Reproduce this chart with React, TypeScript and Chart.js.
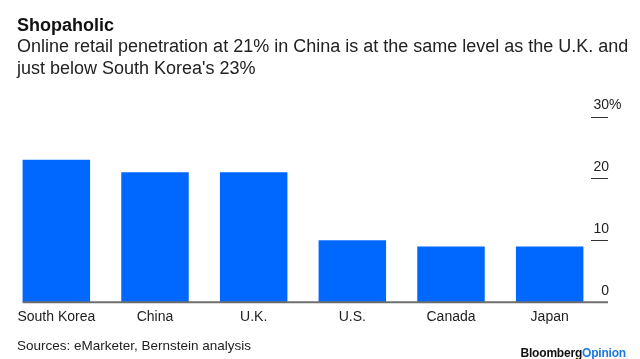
import React, { useEffect, useRef } from "react";
import { Chart, registerables } from "chart.js";

Chart.register(...registerables);

const categories = ["South Korea", "China", "U.K.", "U.S.", "Canada", "Japan"];
const penetration = [23, 21, 21, 10, 9, 9];
const yTicks = [0, 10, 20, 30];

const FONT = "'Liberation Sans', Arial, Helvetica, sans-serif";
const BAR_BLUE = "#0068ff";

const axisDecor = {
  id: "axisDecor",
  afterDatasetsDraw(chart: any) {
    const { ctx, chartArea } = chart;
    const y = chart.scales.y;
    const meta = chart.getDatasetMeta(0);
    const first = meta.data[0];
    const left = first.x - first.width / 2;
    const right = chartArea.right + 9;
    ctx.save();
    const y0 = y.getPixelForValue(0);
    ctx.strokeStyle = "#6e6e6e";
    ctx.lineWidth = 2;
    ctx.beginPath();
    ctx.moveTo(left, y0);
    ctx.lineTo(right, y0);
    ctx.stroke();
    ctx.font = `14px ${FONT}`;
    ctx.fillStyle = "#222";
    ctx.textBaseline = "middle";
    yTicks.forEach((v, i) => {
      const py = y.getPixelForValue(v);
      if (v !== 0) {
        ctx.strokeStyle = "#333";
        ctx.lineWidth = 1;
        ctx.beginPath();
        ctx.moveTo(right - 17, Math.round(py) + 0.5);
        ctx.lineTo(right, Math.round(py) + 0.5);
        ctx.stroke();
      }
      const num = String(v);
      const label = i === yTicks.length - 1 ? num + "%" : num;
      const w = ctx.measureText(num).width;
      ctx.textAlign = "left";
      ctx.fillText(label, right + 1 - w, py - 11);
    });
    ctx.restore();
  },
};

function BarChart() {
  const ref = useRef<HTMLCanvasElement>(null);
  useEffect(() => {
    if (!ref.current) return;
    const chart = new Chart(ref.current, {
      type: "bar",
      data: {
        labels: categories,
        datasets: [
          {
            data: penetration,
            backgroundColor: BAR_BLUE,
            borderWidth: 0,
            categoryPercentage: 1,
            barPercentage: 0.684,
          },
        ],
      },
      options: {
        responsive: false,
        animation: false,
        events: [],
        layout: { padding: { left: 7, right: 41, top: 116.5, bottom: 26 } },
        plugins: {
          legend: { display: false },
          tooltip: { enabled: false },
          title: { display: false },
        },
        scales: {
          x: {
            grid: { display: false, drawTicks: false },
            border: { display: false },
            ticks: {
              padding: 7,
              color: "#222",
              font: { family: FONT, size: 14 },
              maxRotation: 0,
              autoSkip: false,
            },
          },
          y: {
            display: false,
            min: 0,
            max: 30,
            ticks: { stepSize: 10 },
          },
        },
      },
      plugins: [axisDecor],
    });
    return () => chart.destroy();
  }, []);
  return (
    <canvas
      ref={ref}
      width={640}
      height={359}
      style={{ position: "absolute", left: 0, top: 0, width: 640, height: 359 }}
    />
  );
}

export default function App() {
  const text: React.CSSProperties = {
    position: "absolute",
    left: 17,
    margin: 0,
    fontFamily: FONT,
    whiteSpace: "nowrap",
  };
  return (
    <div style={{ position: "absolute", left: 0, top: 0, width: 640, height: 359, background: "#fff", overflow: "hidden" }}>
      <BarChart />
      <div style={{ ...text, top: 14, fontSize: 18, fontWeight: 700, color: "#111", lineHeight: "22px" }}>
        Shopaholic
      </div>
      <div style={{ ...text, top: 35, fontSize: 18, color: "#222", lineHeight: "22px" }}>
        Online retail penetration at 21% in China is at the same level as the U.K. and
        <br />
        just below South Korea's 23%
      </div>
      <div style={{ ...text, top: 337, fontSize: 13.5, color: "#222", lineHeight: "18px" }}>
        Sources: eMarketer, Bernstein analysis
      </div>
      <div
        style={{
          position: "absolute",
          right: 14,
          top: 345,
          fontFamily: FONT,
          fontSize: 12,
          fontWeight: 700,
          lineHeight: "16px",
          whiteSpace: "nowrap",
          letterSpacing: "-0.2px",
        }}
      >
        <span style={{ color: "#111" }}>Bloomberg</span>
        <span style={{ color: "#1f7ae0" }}>Opinion</span>
      </div>
    </div>
  );
}
